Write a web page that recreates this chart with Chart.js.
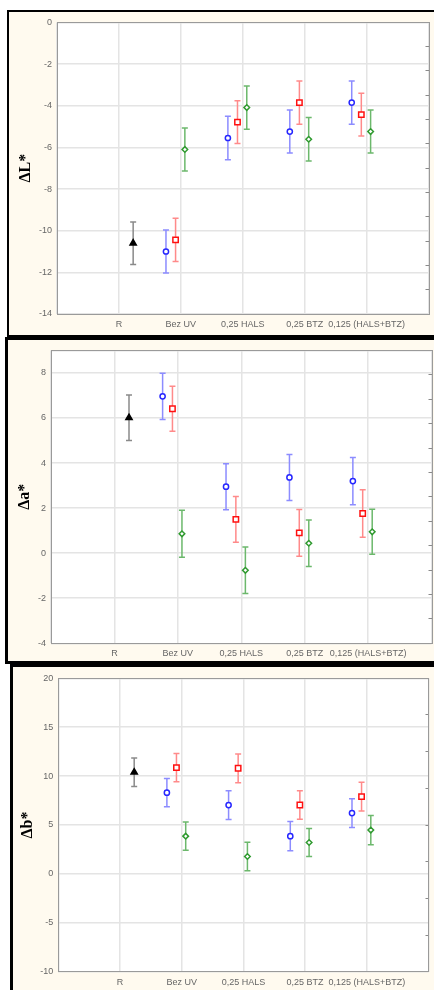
<!DOCTYPE html>
<html lang="en">
<head>
    <meta charset="UTF-8">
    <title>ΔL* Δa* Δb*</title>
    <script src="https://cdn.jsdelivr.net/npm/chart.js"></script>
    <style>
        html, body { margin: 0; padding: 0; background: #fff; overflow: hidden; }
        body { width: 434px; height: 990px; position: relative; }
        .frame { position: absolute; background: #fffaef; border: solid #000; box-sizing: border-box; }
        #f1 { left: 7px; top: 10px; width: 440px; height: 327px; border-width: 2px; }
        #f2 { left: 5px; top: 337px; width: 440px; height: 327px; border-width: 3px; }
        #f3 { left: 10px; top: 664px; width: 440px; height: 340px; border-width: 3px; }
        canvas { position: absolute; }
        #c1 { left: 9px; top: 12px; }
        #c2 { left: 8px; top: 340px; }
        #c3 { left: 13px; top: 667px; }
    </style>
</head>
<body>
    <div class="frame" id="f1"></div>
    <div class="frame" id="f2"></div>
    <div class="frame" id="f3"></div>
    <canvas id="c1" width="425" height="323"></canvas>
    <canvas id="c2" width="429" height="321"></canvas>
    <canvas id="c3" width="421" height="323"></canvas>

    <script>
        // categories on the x axis (positions 1..5)
        var categories = ['R', 'Bez UV', '0,25 HALS', '0,25 BTZ', '0,125 (HALS+BTZ)'];

        // horizontal shift of each series inside a category (black, blue, red, green)
        var seriesOffsets = [0.23, -0.24, -0.085, 0.065];

        // ΔL*
        var lBlack = [-10.6, null, null, null, null];
        var lBlue = [null, -11.0, -5.55, -5.24, -3.85];
        var lRed = [null, -10.44, -4.79, -3.85, -4.43];
        var lGreen = [null, -6.1, -4.09, -5.61, -5.24];
        var lBlackErr = [1.02, null, null, null, null];
        var lBlueErr = [null, 1.03, 1.04, 1.03, 1.04];
        var lRedErr = [null, 1.04, 1.03, 1.04, 1.03];
        var lGreenErr = [null, 1.035, 1.035, 1.04, 1.03];
        var lTicks = { min: -14, max: 0, step: 2 };

        // Δa*
        var aBlack = [6.01, null, null, null, null];
        var aBlue = [null, 6.96, 2.95, 3.36, 3.2];
        var aRed = [null, 6.41, 1.5, 0.9, 1.76];
        var aGreen = [null, 0.86, -0.76, 0.44, 0.95];
        var aBlackErr = [1.01, null, null, null, null];
        var aBlueErr = [null, 1.03, 1.02, 1.02, 1.05];
        var aRedErr = [null, 1.0, 1.02, 1.04, 1.05];
        var aGreenErr = [null, 1.04, 1.03, 1.03, 1.0];
        var aTicks = { min: -4, max: 9, step: 2 };

        // Δb*
        var bBlack = [10.39, null, null, null, null];
        var bBlue = [null, 8.31, 7.04, 3.86, 6.22];
        var bRed = [null, 10.87, 10.8, 7.04, 7.9];
        var bGreen = [null, 3.86, 1.78, 3.21, 4.48];
        var bBlackErr = [1.45, null, null, null, null];
        var bBlueErr = [null, 1.45, 1.47, 1.49, 1.47];
        var bRedErr = [null, 1.44, 1.47, 1.45, 1.47];
        var bGreenErr = [null, 1.45, 1.46, 1.44, 1.49];
        var bTicks = { min: -10, max: 20, step: 5 };

        var FONT = "'Liberation Sans', Arial, sans-serif";

        // marker look for black, blue, red, green
        var seriesStyle = [
            { color: '#000000', err: '#8a8a8a', shape: 'triangle', r: 3.6, fill: '#000000' },
            { color: '#2626ff', err: '#8c8cff', shape: 'circle', r: 2.6, fill: '#ffffff' },
            { color: '#ff1010', err: '#ff8a8a', shape: 'rect', r: 3.8, fill: '#ffffff' },
            { color: '#2f9a2f', err: '#6cb86c', shape: 'rectRot', r: 2.8, fill: '#ffffff' }
        ];

        function points(values, errs, s) {
            var out = [];
            for (var i = 0; i < values.length; i++) {
                if (values[i] === null) continue;
                out.push({ x: i + 1 + seriesOffsets[s], y: values[i], err: errs[i] });
            }
            return out;
        }

        var errorBars = {
            id: 'errorBars',
            beforeDatasetsDraw: function (chart) {
                var ctx = chart.ctx, ys = chart.scales.y;
                chart.data.datasets.forEach(function (ds, di) {
                    var meta = chart.getDatasetMeta(di);
                    ctx.save();
                    ctx.strokeStyle = ds.errColor;
                    ctx.lineWidth = 1.5;
                    meta.data.forEach(function (pt, i) {
                        var d = ds.data[i];
                        var top = ys.getPixelForValue(d.y + d.err);
                        var bot = ys.getPixelForValue(d.y - d.err);
                        ctx.beginPath();
                        ctx.moveTo(pt.x, top); ctx.lineTo(pt.x, bot);
                        ctx.moveTo(pt.x - 3, top); ctx.lineTo(pt.x + 3, top);
                        ctx.moveTo(pt.x - 3, bot); ctx.lineTo(pt.x + 3, bot);
                        ctx.stroke();
                    });
                    ctx.restore();
                });
            }
        };

        var plotFrame = {
            id: 'plotFrame',
            beforeDraw: function (chart) {
                var a = chart.chartArea, ctx = chart.ctx;
                ctx.save();
                ctx.fillStyle = '#ffffff';
                ctx.fillRect(a.left, a.top, a.right - a.left, a.bottom - a.top);
                ctx.restore();
            },
            afterDraw: function (chart) {
                var a = chart.chartArea, ctx = chart.ctx;
                ctx.save();
                ctx.strokeStyle = '#9a9a9a';
                ctx.lineWidth = 1;
                ctx.strokeRect(Math.round(a.left) + 0.5, Math.round(a.top) + 0.5,
                    Math.round(a.right - a.left), Math.round(a.bottom - a.top));
                ctx.restore();
            }
        };

        function makePanel(id, o) {
            var datasets = o.series.map(function (s, k) {
                var st = seriesStyle[k];
                return {
                    data: points(s[0], s[1], k),
                    errColor: st.err,
                    pointStyle: st.shape,
                    pointRadius: st.r,
                    pointBorderWidth: 1.5,
                    borderColor: st.color,
                    backgroundColor: st.fill
                };
            });

            return new Chart(document.getElementById(id), {
                type: 'scatter',
                data: { datasets: datasets },
                plugins: [plotFrame, errorBars],
                options: {
                    responsive: false,
                    animation: false,
                    layout: { padding: { top: o.top, left: 0, right: o.padRight, bottom: 0 } },
                    plugins: { legend: { display: false }, tooltip: { enabled: false } },
                    scales: {
                        x: {
                            type: 'linear', min: 0, max: 6,
                            afterFit: function (sc) { sc.height = o.xHeight; },
                            border: { display: false },
                            grid: { color: '#e4e4e4', lineWidth: 1.5, drawTicks: false },
                            ticks: {
                                stepSize: 1, autoSkip: false, maxRotation: 0, padding: 5,
                                color: '#666', font: { family: FONT, size: 9 },
                                callback: function (v) { return categories[v - 1] || ''; }
                            }
                        },
                        y: {
                            min: o.ticks.min, max: o.ticks.max,
                            afterFit: function (sc) { sc.width = o.yWidth; },
                            border: { display: false },
                            grid: { color: '#e4e4e4', lineWidth: 1.5, drawTicks: false },
                            ticks: {
                                stepSize: o.ticks.step, padding: 5,
                                color: '#666', font: { family: FONT, size: 9 },
                                callback: function (v) { return v % o.ticks.step === 0 ? v : ''; }
                            },
                            title: {
                                display: true, text: o.title, color: '#000',
                                padding: { top: o.titlePad, bottom: 0 },
                                font: { family: "'Liberation Serif', 'Times New Roman', serif", size: 16, weight: 'bold' }
                            }
                        },
                        y2: {
                            position: 'right', min: 0, max: o.minor,
                            afterFit: function (sc) { sc.width = o.y2Width; },
                            border: { display: false },
                            grid: { drawOnChartArea: false, drawTicks: true, tickLength: -3, color: '#8a8a8a' },
                            ticks: { stepSize: 1, display: false }
                        }
                    }
                }
            });
        }

        makePanel('c1', {
            title: 'ΔL*', ticks: lTicks, minor: 12,
            series: [[lBlack, lBlackErr], [lBlue, lBlueErr], [lRed, lRedErr], [lGreen, lGreenErr]],
            top: 10, padRight: 0, yWidth: 48, y2Width: 4, xHeight: 21, titlePad: 7
        });

        makePanel('c2', {
            title: 'Δa*', ticks: aTicks, minor: 12,
            series: [[aBlack, aBlackErr], [aBlue, aBlueErr], [aRed, aRedErr], [aGreen, aGreenErr]],
            top: 10, padRight: 0, yWidth: 43, y2Width: 3, xHeight: 17.7, titlePad: 7.5
        });

        makePanel('c3', {
            title: 'Δb*', ticks: bTicks, minor: 8,
            series: [[bBlack, bBlackErr], [bBlue, bBlueErr], [bRed, bRedErr], [bGreen, bGreenErr]],
            top: 11.3, padRight: 1.5, yWidth: 45.3, y2Width: 4, xHeight: 18.3, titlePad: 5.5
        });
    </script>
</body>
</html>
